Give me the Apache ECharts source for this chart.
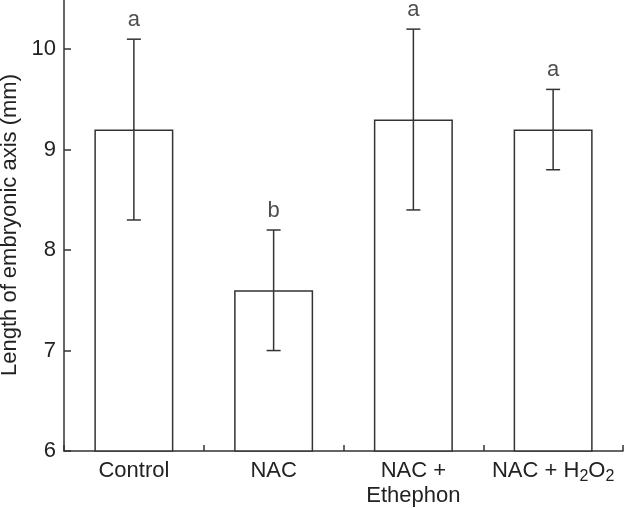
<!DOCTYPE html>
<html>
<head>
<meta charset="utf-8">
<script src="https://cdn.jsdelivr.net/npm/echarts@6/dist/echarts.min.js"></script>
<style>
html,body{margin:0;padding:0;background:#fff;}
#chart{width:624px;height:508px;}
</style>
</head>
<body>
<div id="chart"></div>
<script>
var categories = ['Control', 'NAC', 'NAC +\nEthephon', 'NAC + H2O2'];
var means = [9.2, 7.6, 9.3, 9.2];
var errLow = [8.3, 7.0, 8.4, 8.8];
var errHigh = [10.1, 8.2, 10.2, 9.6];
var letters = ['a', 'b', 'a', 'a'];
var yTicks = [6, 7, 8, 9, 10];

var FONT = '"Liberation Sans", Arial, Helvetica, sans-serif';
var INK = '#333';
var chart = echarts.init(document.getElementById('chart'), null, {renderer: 'canvas'});

var errData = categories.map(function (c, i) { return [i, errLow[i], errHigh[i]]; });
var letterData = categories.map(function (c, i) { return [i, errHigh[i]]; });

chart.setOption({
  animation: false,
  backgroundColor: '#fff',
  grid: {left: 64, right: 1, top: -1, bottom: 57, containLabel: false, outerBoundsMode: 'none'},
  xAxis: {
    type: 'category',
    data: categories,
    boundaryGap: true,
    axisLine: {lineStyle: {color: INK, width: 1.5}},
    axisTick: {show: true, inside: true, length: 6, lineStyle: {color: INK, width: 1.5}},
    axisLabel: {
      color: '#222', fontFamily: FONT, fontSize: 22, margin: 7, lineHeight: 25,
      interval: 0,
      formatter: function (v) {
        if (v === 'NAC + H2O2') return '{n|NAC + H}{s|2}{n|O}{s|2}';
        return v;
      },
      rich: {
        n: {fontFamily: FONT, fontSize: 22, color: '#222', lineHeight: 25},
        s: {fontFamily: FONT, fontSize: 16, color: '#222', lineHeight: 25, padding: [12, 0, 0, 0]}
      }
    }
  },
  yAxis: {
    type: 'value',
    min: 6, max: 10.5, interval: 1,
    name: 'Length of embryonic axis (mm)',
    nameLocation: 'middle',
    nameGap: 43,
    nameTextStyle: {color: '#222', fontFamily: FONT, fontSize: 22},
    axisLine: {show: true, lineStyle: {color: INK, width: 1.5}},
    axisTick: {show: true, inside: true, length: 7, lineStyle: {color: INK, width: 1.5}},
    axisLabel: {
      color: '#222', fontFamily: FONT, fontSize: 22, margin: 8,
      formatter: function (v) { return yTicks.indexOf(v) >= 0 ? String(v) : ''; }
    },
    splitLine: {show: false}
  },
  series: [
    {
      type: 'bar',
      data: means,
      barWidth: 79,
      itemStyle: {color: '#fff', borderColor: INK, borderWidth: 1.5},
      z: 2
    },
    {
      type: 'custom',
      data: errData,
      z: 3,
      renderItem: function (params, api) {
        var x = api.value(0);
        var lo = api.coord([x, api.value(1)]);
        var hi = api.coord([x, api.value(2)]);
        var hw = 7;
        var st = {stroke: INK, lineWidth: 1.5};
        return {
          type: 'group',
          children: [
            {type: 'line', shape: {x1: hi[0], y1: hi[1], x2: lo[0], y2: lo[1]}, style: st},
            {type: 'line', shape: {x1: hi[0] - hw, y1: hi[1], x2: hi[0] + hw, y2: hi[1]}, style: st},
            {type: 'line', shape: {x1: lo[0] - hw, y1: lo[1], x2: lo[0] + hw, y2: lo[1]}, style: st}
          ]
        };
      }
    },
    {
      type: 'scatter',
      data: letterData,
      symbolSize: 0,
      z: 4,
      label: {
        show: true, position: 'top', distance: 8,
        color: '#222', fontFamily: FONT, fontSize: 22,
        formatter: function (p) { return letters[p.dataIndex]; }
      }
    }
  ]
});
</script>
</body>
</html>
